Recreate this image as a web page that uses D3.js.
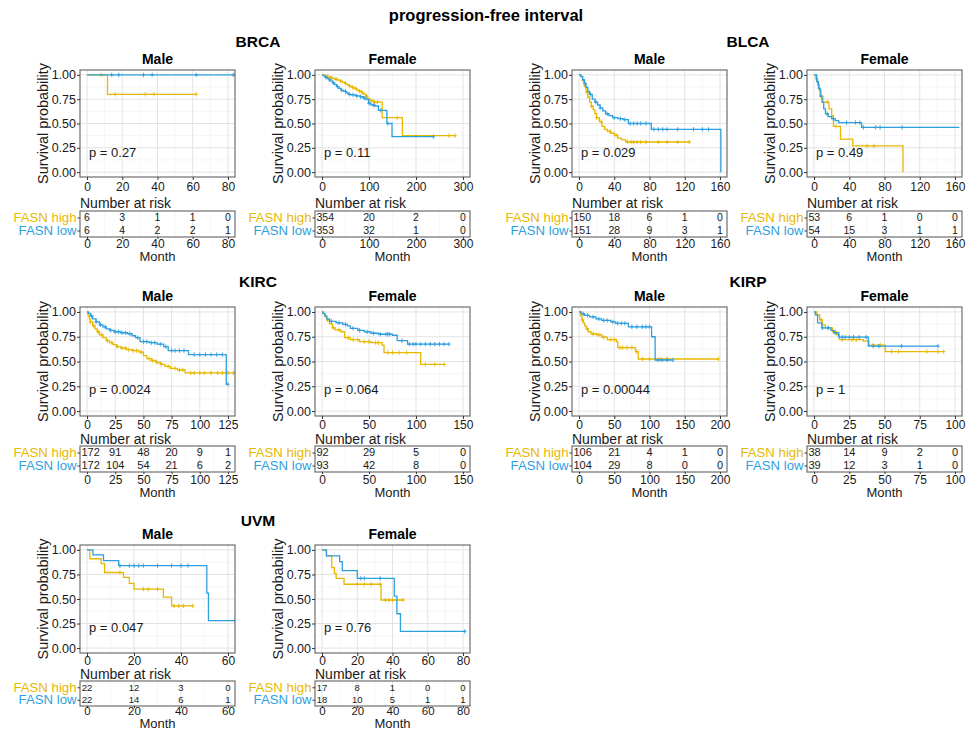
<!DOCTYPE html>
<html>
<head>
<meta charset="utf-8">
<script src="https://cdn.jsdelivr.net/npm/d3@7"></script>
<style>
body { margin: 0; background: #fff; }
svg { font-family: "Liberation Sans", Arial, sans-serif; }
</style>
</head>
<body>
<svg id="chart" width="972" height="731"></svg>
<script>
var svg = d3.select("#chart");

var highColor = "#E7B800",
    lowColor = "#2E9FDF";

var strataLabels = ["FASN high", "FASN low"];
var yTicks = [0, 0.25, 0.5, 0.75, 1];

/*
  Curves: [month, survival] where survival holds from that month on
*/
var brcaMaleTicks = [0, 20, 40, 60, 80];
var brcaMaleHigh = [[0,1],[11.6,0.8],[62,0.8]];
var brcaMaleLow = [[0,1],[84,1]];
var brcaMaleHighCens = [8,16,33,38,62];
var brcaMaleLowCens = [14,18,32,37,62,83];
var brcaMaleRiskHigh = [6,3,1,1,0];
var brcaMaleRiskLow = [6,4,2,2,1];

var brcaFemaleTicks = [0, 100, 200, 300];
var brcaFemaleHigh = [[0,1],[4,0.995],[8,0.985],[13,0.978],[18,0.97],[23,0.962],[28,0.955],[33,0.945],[38,0.935],[43,0.925],[48,0.912],[53,0.9],[58,0.885],[63,0.872],[68,0.86],[73,0.845],[78,0.832],[84,0.818],[89,0.8],[93,0.78],[97,0.755],[102,0.735],[110,0.72],[128,0.56],[171,0.375],[285,0.375]];
var brcaFemaleLow = [[0,1],[3,0.99],[7,0.975],[11,0.962],[15,0.948],[19,0.935],[23,0.918],[27,0.9],[31,0.88],[36,0.86],[41,0.84],[46,0.83],[51,0.815],[56,0.8],[61,0.795],[72,0.785],[82,0.775],[88,0.76],[94,0.745],[99,0.71],[104,0.69],[112,0.68],[120,0.635],[138,0.5],[149,0.365],[238,0.365]];
var brcaFemaleHighCens = [12,20,30,40,50,58,65,72,80,86,95,106,112,118,160,270,283];
var brcaFemaleLowCens = [8,16,24,33,42,50,58,66,74,82,90,100,110,125,140,237];
var brcaFemaleRiskHigh = [354,20,2,0];
var brcaFemaleRiskLow = [353,32,1,0];

var blcaMaleTicks = [0, 40, 80, 120, 160];
var blcaMaleHigh = [[0,1],[2,0.98],[4,0.94],[6,0.88],[8,0.82],[10,0.77],[12,0.72],[14,0.68],[16,0.64],[18,0.6],[20,0.56],[23,0.52],[26,0.47],[29,0.44],[32,0.42],[36,0.4],[40,0.38],[44,0.35],[48,0.335],[53,0.31],[126,0.31]];
var blcaMaleLow = [[0,1],[2,0.985],[4,0.95],[6,0.91],[8,0.87],[10,0.83],[12,0.8],[15,0.75],[18,0.72],[21,0.69],[24,0.66],[27,0.63],[30,0.6],[34,0.58],[38,0.56],[44,0.55],[50,0.54],[56,0.5],[82,0.44],[161,0.44],[161,0]];
var blcaMaleHighCens = [5,9,14,20,25,35,42,55,59,62,66,70,76,90,100,112,125];
var blcaMaleLowCens = [7,13,19,24,32,40,47,52,58,62,66,70,76,85,90,95,100,112,130,140,147];
var blcaMaleRiskHigh = [150,18,6,1,0];
var blcaMaleRiskLow = [151,28,9,3,1];

var blcaFemaleTicks = [0, 40, 80, 120, 160];
var blcaFemaleHigh = [[0,1],[2,0.96],[4,0.9],[6,0.84],[8,0.78],[10,0.72],[17,0.65],[20,0.58],[22,0.47],[30,0.34],[44,0.27],[101,0.27],[101,0]];
var blcaFemaleLow = [[0,1],[3,0.93],[5,0.86],[7,0.78],[9,0.72],[11,0.65],[13,0.6],[16,0.57],[20,0.55],[24,0.53],[28,0.51],[54,0.46],[165,0.46]];
var blcaFemaleHighCens = [8,15,25,60,68];
var blcaFemaleLowCens = [15,22,37,47,52,56,70,75,100];
var blcaFemaleRiskHigh = [53,6,1,0,0];
var blcaFemaleRiskLow = [54,15,3,1,1];

var kircMaleTicks = [0, 25, 50, 75, 100, 125];
var kircMaleHigh = [[0,1],[1,0.96],[2,0.93],[3,0.9],[5,0.86],[7,0.83],[9,0.8],[11,0.77],[14,0.74],[17,0.71],[20,0.69],[23,0.67],[26,0.65],[30,0.635],[35,0.62],[40,0.61],[46,0.595],[50,0.56],[53,0.53],[57,0.51],[61,0.49],[65,0.47],[69,0.45],[74,0.43],[80,0.415],[87,0.385],[131,0.385]];
var kircMaleLow = [[0,1],[1,0.985],[3,0.96],[5,0.93],[8,0.9],[11,0.87],[14,0.85],[17,0.83],[20,0.815],[24,0.8],[30,0.79],[36,0.78],[40,0.76],[43,0.74],[47,0.7],[55,0.69],[62,0.675],[68,0.65],[72,0.61],[90,0.57],[123,0.57],[123.5,0.27],[125,0.27]];
var kircMaleHighCens = [3,6,10,13,18,22,27,31,34,37,41,44,48,55,58,62,66,72,78,82,85,92,95,100,104,110,116,120,125,130];
var kircMaleLowCens = [4,8,12,16,21,25,28,31,34,38,45,50,53,57,60,65,70,75,78,82,86,95,100,105,110,115,120,125];
var kircMaleRiskHigh = [172,91,48,20,9,1];
var kircMaleRiskLow = [172,104,54,21,6,2];

var kircFemaleTicks = [0, 50, 100, 150];
var kircFemaleHigh = [[0,1],[1,0.98],[3,0.95],[5,0.92],[8,0.88],[11,0.84],[14,0.82],[20,0.8],[24,0.74],[30,0.72],[40,0.7],[52,0.69],[64,0.665],[66,0.59],[105,0.47],[131,0.47]];
var kircFemaleLow = [[0,1],[1,0.985],[3,0.96],[5,0.93],[8,0.905],[15,0.89],[22,0.875],[27,0.86],[30,0.835],[38,0.815],[45,0.8],[52,0.785],[60,0.775],[75,0.765],[80,0.71],[91,0.675],[135,0.675]];
var kircFemaleHighCens = [6,12,18,28,33,38,45,50,57,60,70,75,82,90,110,120,130];
var kircFemaleLowCens = [10,18,25,33,40,48,55,62,68,70,72,85,93,97,100,105,110,115,120,125,130,135];
var kircFemaleRiskHigh = [92,29,5,0];
var kircFemaleRiskLow = [93,42,8,0];

var kirpMaleTicks = [0, 50, 100, 150, 200];
var kirpMaleHigh = [[0,1],[2,0.96],[4,0.92],[6,0.89],[8,0.86],[10,0.83],[13,0.8],[17,0.78],[25,0.77],[32,0.745],[40,0.72],[53,0.7],[55,0.64],[80,0.6],[84,0.525],[198,0.525]];
var kirpMaleLow = [[0,1],[3,0.98],[8,0.965],[15,0.95],[24,0.93],[32,0.915],[45,0.9],[52,0.885],[70,0.85],[103,0.75],[108,0.515],[133,0.515]];
var kirpMaleHighCens = [5,12,20,28,35,45,50,58,62,68,75,82,90,100,115,125,198];
var kirpMaleLowCens = [6,12,20,28,35,40,48,55,60,65,75,82,90,95,100,112,118,125,133];
var kirpMaleRiskHigh = [106,21,4,1,0];
var kirpMaleRiskLow = [104,29,8,0,0];

var kirpFemaleTicks = [0, 25, 50, 75, 100];
var kirpFemaleHigh = [[0,1],[2,0.97],[4,0.92],[6,0.87],[8,0.84],[13,0.8],[16,0.77],[18,0.72],[35,0.705],[39,0.665],[50.5,0.6],[92,0.6]];
var kirpFemaleLow = [[0,1],[1,0.97],[2.5,0.89],[5.5,0.84],[12,0.815],[14,0.79],[17.5,0.745],[38.5,0.655],[88,0.655]];
var kirpFemaleHighCens = [5,10,15,20,27,30,42,47,55,60,80,88,92];
var kirpFemaleLowCens = [6,10,15,20,22,25,28,32,37,42,46,62,88];
var kirpFemaleRiskHigh = [38,14,9,2,0];
var kirpFemaleRiskLow = [39,12,3,1,0];

var uvmMaleTicks = [0, 20, 40, 60];
var uvmMaleHigh = [[0,1],[1.2,0.91],[6,0.86],[7.5,0.77],[15.5,0.72],[18,0.66],[20,0.6],[32.5,0.52],[36,0.43],[45,0.43]];
var uvmMaleLow = [[0,1],[2.5,0.95],[7,0.89],[13.5,0.84],[51,0.56],[51.7,0.28],[63,0.28]];
var uvmMaleHighCens = [14,24,26,30,37,39,41,45];
var uvmMaleLowCens = [14,18,20,22,24,30,36,40,43,63];
var uvmMaleRiskHigh = [22,12,3,0];
var uvmMaleRiskLow = [22,14,6,1];

var uvmFemaleTicks = [0, 20, 40, 60, 80];
var uvmFemaleHigh = [[0,1],[2.5,0.94],[5.5,0.82],[7,0.76],[8,0.71],[12.5,0.65],[33.5,0.49],[46,0.49]];
var uvmFemaleLow = [[0,1],[2.5,0.94],[10,0.88],[11.5,0.79],[20,0.71],[41,0.53],[42.5,0.35],[44.5,0.17],[81.5,0.17]];
var uvmFemaleHighCens = [20,24,28,33,36,38,40,46];
var uvmFemaleLowCens = [22,24,33,81];
var uvmFemaleRiskHigh = [17,8,1,0,0];
var uvmFemaleRiskLow = [18,10,5,1,1];

var groups = [
  {name: "BRCA", row: 0, col: 0},
  {name: "BLCA", row: 0, col: 1},
  {name: "KIRC", row: 1, col: 0},
  {name: "KIRP", row: 1, col: 1},
  {name: "UVM", row: 2, col: 0}
];

var panels = [
  {row:0, col:0, sex:"Male", p:"p = 0.27", ticks:brcaMaleTicks, high:brcaMaleHigh, low:brcaMaleLow, highCens:brcaMaleHighCens, lowCens:brcaMaleLowCens, riskHigh:brcaMaleRiskHigh, riskLow:brcaMaleRiskLow},
  {row:0, col:1, sex:"Female", p:"p = 0.11", ticks:brcaFemaleTicks, high:brcaFemaleHigh, low:brcaFemaleLow, highCens:brcaFemaleHighCens, lowCens:brcaFemaleLowCens, riskHigh:brcaFemaleRiskHigh, riskLow:brcaFemaleRiskLow},
  {row:0, col:2, sex:"Male", p:"p = 0.029", ticks:blcaMaleTicks, high:blcaMaleHigh, low:blcaMaleLow, highCens:blcaMaleHighCens, lowCens:blcaMaleLowCens, riskHigh:blcaMaleRiskHigh, riskLow:blcaMaleRiskLow},
  {row:0, col:3, sex:"Female", p:"p = 0.49", ticks:blcaFemaleTicks, high:blcaFemaleHigh, low:blcaFemaleLow, highCens:blcaFemaleHighCens, lowCens:blcaFemaleLowCens, riskHigh:blcaFemaleRiskHigh, riskLow:blcaFemaleRiskLow},
  {row:1, col:0, sex:"Male", p:"p = 0.0024", ticks:kircMaleTicks, high:kircMaleHigh, low:kircMaleLow, highCens:kircMaleHighCens, lowCens:kircMaleLowCens, riskHigh:kircMaleRiskHigh, riskLow:kircMaleRiskLow},
  {row:1, col:1, sex:"Female", p:"p = 0.064", ticks:kircFemaleTicks, high:kircFemaleHigh, low:kircFemaleLow, highCens:kircFemaleHighCens, lowCens:kircFemaleLowCens, riskHigh:kircFemaleRiskHigh, riskLow:kircFemaleRiskLow},
  {row:1, col:2, sex:"Male", p:"p = 0.00044", ticks:kirpMaleTicks, high:kirpMaleHigh, low:kirpMaleLow, highCens:kirpMaleHighCens, lowCens:kirpMaleLowCens, riskHigh:kirpMaleRiskHigh, riskLow:kirpMaleRiskLow},
  {row:1, col:3, sex:"Female", p:"p = 1", ticks:kirpFemaleTicks, high:kirpFemaleHigh, low:kirpFemaleLow, highCens:kirpFemaleHighCens, lowCens:kirpFemaleLowCens, riskHigh:kirpFemaleRiskHigh, riskLow:kirpFemaleRiskLow},
  {row:2, col:0, sex:"Male", p:"p = 0.047", ticks:uvmMaleTicks, high:uvmMaleHigh, low:uvmMaleLow, highCens:uvmMaleHighCens, lowCens:uvmMaleLowCens, riskHigh:uvmMaleRiskHigh, riskLow:uvmMaleRiskLow},
  {row:2, col:1, sex:"Female", p:"p = 0.76", ticks:uvmFemaleTicks, high:uvmFemaleHigh, low:uvmFemaleLow, highCens:uvmFemaleHighCens, lowCens:uvmFemaleLowCens, riskHigh:uvmFemaleRiskHigh, riskLow:uvmFemaleRiskLow}
];

/*
  Layout
*/
var colX = [80, 315, 572, 807],
    panelW = 155,
    groupX = [258, 748];

var rows = [
  {top: 70, h: 107, groupY: 42, tickPad: 2, nar: 203, boxTop: 211, boxBot: 237, riskPad: 0, riskAxisFont: 12, monthY: 256, riskFont: 10.5},
  {top: 307, h: 109, groupY: 282, tickPad: 1, nar: 439, boxTop: 446, boxBot: 472, riskPad: 1, riskAxisFont: 12, monthY: 492, riskFont: 11},
  {top: 545, h: 108, groupY: 521, tickPad: 0, nar: 674, boxTop: 681, boxBot: 706, riskPad: -1, riskAxisFont: 11.5, monthY: 723, riskFont: 9.5}
];

var borderColor = "#6e6e6e",
    majorGrid = "#e3e3e3",
    minorGrid = "#f0f0f0",
    textColor = "#1a1a1a";

svg.append("text")
  .attr("x", 486).attr("y", 15).attr("dy", "0.35em")
  .attr("text-anchor", "middle")
  .style("font-size", "16.5px").style("font-weight", "bold")
  .text("progression-free interval");

groups.forEach(function(g) {
  svg.append("text")
    .attr("x", groupX[g.col]).attr("y", rows[g.row].groupY).attr("dy", "0.35em")
    .attr("text-anchor", "middle")
    .style("font-size", "15.5px").style("font-weight", "bold")
    .text(g.name);
});

panels.forEach(drawPanel);

function stepValue(curve, t) {
  var v = curve[0][1];
  for (var i = 0; i < curve.length; i++) {
    if (curve[i][0] <= t) v = curve[i][1];
  }
  return v;
}

function minorTicks(ticks) {
  var out = [];
  for (var i = 0; i < ticks.length - 1; i++) out.push((ticks[i] + ticks[i + 1]) / 2);
  return out;
}

function styleAxis(sel, size) {
  sel.select(".domain").remove();
  sel.selectAll(".tick line").attr("stroke", "#333");
  sel.selectAll(".tick text").attr("fill", textColor).style("font-size", size + "px");
  sel.attr("font-family", null);
}

function drawPanel(p, idx) {
  var row = rows[p.row],
      x0 = colX[p.col],
      xMax = p.ticks[p.ticks.length - 1],
      bottom = row.top + row.h;

  var x = d3.scaleLinear()
    .domain([-0.05 * xMax, 1.05 * xMax])
    .range([x0, x0 + panelW]);
  var y = d3.scaleLinear()
    .domain([-0.05, 1.05])
    .range([bottom, row.top]);

  var g = svg.append("g");

  // panel title
  g.append("text")
    .attr("x", x0 + panelW / 2).attr("y", row.top - 11).attr("dy", "0.35em")
    .attr("text-anchor", "middle")
    .style("font-size", "14px").style("font-weight", "bold")
    .text(p.sex);

  // grid
  var xMinor = minorTicks(p.ticks),
      yMinor = minorTicks(yTicks);
  g.selectAll(".vminor").data(xMinor).enter().append("line")
    .attr("x1", x).attr("x2", x).attr("y1", row.top).attr("y2", bottom)
    .attr("stroke", minorGrid).attr("stroke-width", 0.6);
  g.selectAll(".hminor").data(yMinor).enter().append("line")
    .attr("y1", y).attr("y2", y).attr("x1", x0).attr("x2", x0 + panelW)
    .attr("stroke", minorGrid).attr("stroke-width", 0.6);
  g.selectAll(".vmajor").data(p.ticks).enter().append("line")
    .attr("x1", x).attr("x2", x).attr("y1", row.top).attr("y2", bottom)
    .attr("stroke", majorGrid).attr("stroke-width", 1);
  g.selectAll(".hmajor").data(yTicks).enter().append("line")
    .attr("y1", y).attr("y2", y).attr("x1", x0).attr("x2", x0 + panelW)
    .attr("stroke", majorGrid).attr("stroke-width", 1);

  // curves
  var clipId = "clip-" + idx;
  g.append("clipPath").attr("id", clipId)
    .append("rect")
    .attr("x", x0).attr("y", row.top - 3)
    .attr("width", panelW).attr("height", row.h + 3);

  var line = d3.line()
    .x(function(d) { return x(d[0]); })
    .y(function(d) { return y(d[1]); })
    .curve(d3.curveStepAfter);

  var curves = g.append("g").attr("clip-path", "url(#" + clipId + ")");
  [[p.high, p.highCens, highColor], [p.low, p.lowCens, lowColor]].forEach(function(s) {
    curves.append("path")
      .attr("d", line(s[0]))
      .attr("fill", "none")
      .attr("stroke", s[2])
      .attr("stroke-width", 1.3);
    curves.selectAll(null).data(s[1]).enter().append("path")
      .attr("d", function(t) {
        var cx = x(t), cy = y(stepValue(s[0], t));
        return "M" + cx + "," + (cy - 2.2) + "V" + (cy + 2.2) + "M" + (cx - 1.8) + "," + cy + "H" + (cx + 1.8);
      })
      .attr("stroke", s[2])
      .attr("stroke-width", 0.9);
  });

  // border
  g.append("rect")
    .attr("x", x0).attr("y", row.top)
    .attr("width", panelW).attr("height", row.h)
    .attr("fill", "none").attr("stroke", borderColor).attr("stroke-width", 1.2);

  // axes
  g.append("g")
    .attr("transform", "translate(" + x0 + ",0)")
    .call(d3.axisLeft(y).tickValues(yTicks).tickFormat(d3.format(".2f")).tickSize(3).tickPadding(1))
    .call(styleAxis, 12.5);
  g.append("g")
    .attr("transform", "translate(0," + bottom + ")")
    .call(d3.axisBottom(x).tickValues(p.ticks).tickSize(3).tickPadding(row.tickPad))
    .call(styleAxis, 12);

  g.append("text")
    .attr("transform", "translate(" + (x0 - 37) + "," + (row.top + row.h / 2) + ") rotate(-90)")
    .attr("dy", "0.35em")
    .attr("text-anchor", "middle")
    .style("font-size", "14.4px")
    .attr("fill", textColor)
    .text("Survival probability");

  g.append("text")
    .attr("x", x0 + 9).attr("y", row.top + 82).attr("dy", "0.35em")
    .style("font-size", "13px")
    .attr("fill", textColor)
    .text(p.p);

  // risk table
  var boxH = row.boxBot - row.boxTop;
  var ry = d3.scalePoint()
    .domain(strataLabels)
    .range([row.boxTop + boxH * 0.25, row.boxTop + boxH * 0.75]);

  g.append("text")
    .attr("x", x0).attr("y", row.nar).attr("dy", "0.35em")
    .style("font-size", "14px")
    .attr("fill", textColor)
    .text("Number at risk");

  g.selectAll(".rminor").data(xMinor).enter().append("line")
    .attr("x1", x).attr("x2", x).attr("y1", row.boxTop).attr("y2", row.boxBot)
    .attr("stroke", minorGrid).attr("stroke-width", 0.6);
  g.selectAll(".rmajor").data(p.ticks).enter().append("line")
    .attr("x1", x).attr("x2", x).attr("y1", row.boxTop).attr("y2", row.boxBot)
    .attr("stroke", majorGrid).attr("stroke-width", 1);

  // keep the numbers inside the box
  function riskX(d, i) {
    var half = String(d).length * 0.556 * row.riskFont / 2;
    return Math.min(Math.max(x(p.ticks[i]), x0 + 1.5 + half), x0 + panelW - 1.5 - half);
  }

  [[p.riskHigh, strataLabels[0]], [p.riskLow, strataLabels[1]]].forEach(function(r) {
    g.selectAll(null).data(r[0]).enter().append("text")
      .attr("x", riskX)
      .attr("y", ry(r[1])).attr("dy", "0.35em")
      .attr("text-anchor", "middle")
      .style("font-size", row.riskFont + "px")
      .attr("fill", textColor)
      .text(function(d) { return d; });
  });

  g.append("rect")
    .attr("x", x0).attr("y", row.boxTop)
    .attr("width", panelW).attr("height", boxH)
    .attr("fill", "none").attr("stroke", borderColor).attr("stroke-width", 1.2);

  var leftAxis = g.append("g")
    .attr("transform", "translate(" + x0 + ",0)")
    .call(d3.axisLeft(ry).tickSize(2.5).tickPadding(1))
    .call(styleAxis, 13.2);
  leftAxis.selectAll(".tick text")
    .attr("fill", function(d) { return d === strataLabels[0] ? highColor : lowColor; });

  g.append("g")
    .attr("transform", "translate(0," + row.boxBot + ")")
    .call(d3.axisBottom(x).tickValues(p.ticks).tickSize(2).tickPadding(row.riskPad))
    .call(styleAxis, row.riskAxisFont);

  g.append("text")
    .attr("x", x0 + panelW / 2).attr("y", row.monthY).attr("dy", "0.35em")
    .attr("text-anchor", "middle")
    .style("font-size", "13px")
    .attr("fill", textColor)
    .text("Month");
}
</script>
</body>
</html>
